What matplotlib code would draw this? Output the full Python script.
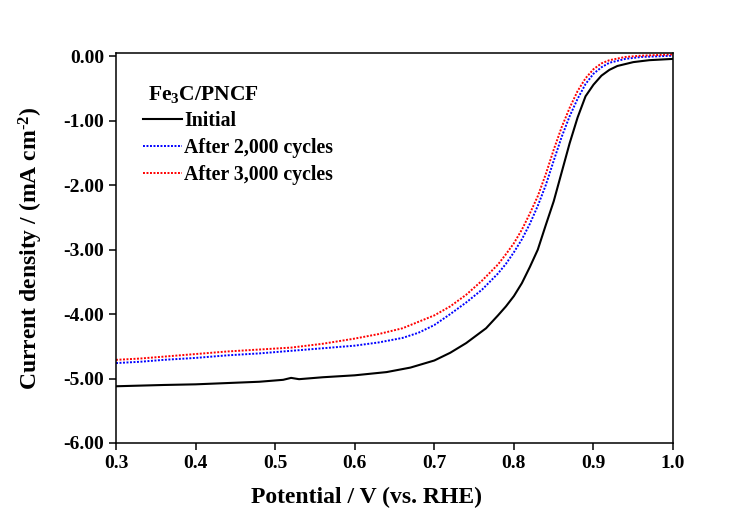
#!/usr/bin/env python
# lsv_fe3c_pncf_stability.py

import matplotlib
matplotlib.use("Agg")
import matplotlib.pyplot as plt

############################
# LSV data
############################
E_INITIAL = [0.30, 0.33, 0.36, 0.40, 0.44, 0.48, 0.51, 0.52, 0.53, 0.56, 0.60,
             0.64, 0.67, 0.70, 0.72, 0.74, 0.765, 0.78, 0.79, 0.80, 0.81, 0.82,
             0.83, 0.84, 0.85, 0.86, 0.87, 0.88, 0.89, 0.90, 0.91, 0.92, 0.93,
             0.95, 0.97, 1.00]
J_INITIAL = [-5.12, -5.11, -5.10, -5.09, -5.07, -5.05, -5.02, -4.99, -5.01, -4.98, -4.95,
             -4.90, -4.83, -4.72, -4.60, -4.45, -4.22, -4.02, -3.88, -3.72, -3.52, -3.27,
             -3.00, -2.62, -2.25, -1.80, -1.35, -0.95, -0.62, -0.44, -0.30, -0.21, -0.15,
             -0.09, -0.06, -0.04]

E_2000 = [0.30, 0.33, 0.36, 0.40, 0.44, 0.48, 0.52, 0.56, 0.60, 0.63, 0.66, 0.68,
          0.70, 0.72, 0.74, 0.76, 0.78, 0.79, 0.80, 0.81, 0.82, 0.83, 0.84, 0.85,
          0.86, 0.87, 0.88, 0.89, 0.90, 0.91, 0.92, 0.94, 0.96, 0.98, 1.00]
J_2000 = [-4.76, -4.74, -4.71, -4.68, -4.64, -4.61, -4.57, -4.53, -4.49, -4.44, -4.37, -4.29,
          -4.17, -4.00, -3.82, -3.62, -3.37, -3.22, -3.04, -2.84, -2.60, -2.32, -2.00, -1.62,
          -1.25, -0.93, -0.66, -0.43, -0.27, -0.17, -0.10, -0.04, -0.01, 0.00, 0.01]

E_3000 = [0.30, 0.33, 0.36, 0.40, 0.44, 0.48, 0.52, 0.56, 0.60, 0.63, 0.66, 0.68,
          0.70, 0.72, 0.74, 0.76, 0.78, 0.79, 0.80, 0.81, 0.82, 0.83, 0.84, 0.85,
          0.86, 0.87, 0.88, 0.89, 0.90, 0.91, 0.92, 0.94, 0.96, 0.98, 1.00]
J_3000 = [-4.71, -4.69, -4.66, -4.62, -4.58, -4.55, -4.52, -4.46, -4.38, -4.31, -4.22, -4.12,
          -4.02, -3.88, -3.70, -3.48, -3.23, -3.07, -2.90, -2.69, -2.44, -2.17, -1.83, -1.45,
          -1.10, -0.80, -0.54, -0.34, -0.20, -0.11, -0.06, -0.01, 0.01, 0.02, 0.03]

X_TICKS = [0.3, 0.4, 0.5, 0.6, 0.7, 0.8, 0.9, 1.0]
Y_TICKS = [0.0, -1.0, -2.0, -3.0, -4.0, -5.0, -6.0]

plt.rcParams["font.family"] = ["Liberation Serif", "DejaVu Serif"]
plt.rcParams["font.weight"] = "bold"
plt.rcParams["mathtext.fontset"] = "custom"
plt.rcParams["mathtext.rm"] = "Liberation Serif:bold"
plt.rcParams["mathtext.it"] = "Liberation Serif:bold"
plt.rcParams["mathtext.bf"] = "Liberation Serif:bold"


def main():
    fig = plt.figure(figsize=(7.32, 5.13), dpi=100)
    ax = fig.add_axes([0.1585, 0.1365, 0.761, 0.760])

    ax.plot(E_INITIAL, J_INITIAL, color="black", lw=1.5, label="Initial")
    ax.plot(E_2000, J_2000, color="blue", lw=1.4, ls=(0, (1, 0.8)), label="After 2,000 cycles")
    ax.plot(E_3000, J_3000, color="red", lw=1.4, ls=(0, (1, 0.8)), label="After 3,000 cycles")

    ax.set_xlim(0.3, 1.0)
    ax.set_ylim(-6.0, 0.05)
    ax.set_xticks(X_TICKS)
    ax.set_xticklabels([f"{v:.1f}" for v in X_TICKS])
    ax.set_yticks(Y_TICKS)
    ax.set_yticklabels([f"{v:.2f}" for v in Y_TICKS])
    ax.tick_params(direction="out", length=5, width=1.1, labelsize=14,
                   top=False, right=False)
    for sp in ax.spines.values():
        sp.set_linewidth(1.1)

    ax.set_xlabel("Potential / V (vs. RHE)", fontsize=17, fontweight="bold")
    ax.xaxis.set_label_coords(0.45, -0.112)
    ax.set_ylabel("Current density / (mA cm$^{\u2010 2}$)", fontsize=17, fontweight="bold",
                  labelpad=13)

    leg = ax.legend(loc="upper left", bbox_to_anchor=(0.049, 0.922), frameon=False,
                    title="Fe$_3$C/PNCF", title_fontproperties={"size": 15.5, "weight": "bold"},
                    prop={"size": 14.3, "weight": "bold"}, handlelength=1.94,
                    handletextpad=0.12, labelspacing=0.34, borderpad=0, borderaxespad=0,
                    alignment="left")
    leg.get_title().set_position((5, 0))

    fig.savefig("out.png", dpi=100)


if __name__ == "__main__":
    main()
